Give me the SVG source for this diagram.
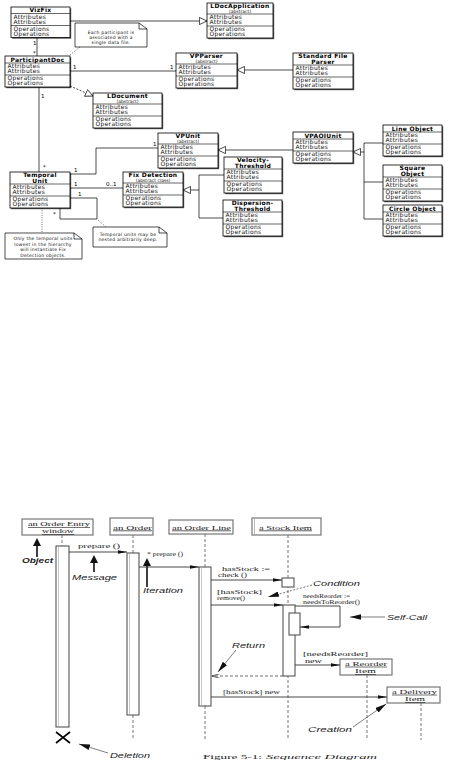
<svg xmlns="http://www.w3.org/2000/svg" width="453" height="764" viewBox="0 0 453 764">
<defs>
<style>
.bx{fill:#fff;stroke:#000;stroke-width:.8}
.sh{fill:#555}
.dv{stroke:#000;stroke-width:.6;fill:none}
.t{font-family:"DejaVu Sans",sans-serif;font-size:6px;letter-spacing:.3px;fill:#111}
.tt{font-family:"DejaVu Sans",sans-serif;font-size:6px;font-weight:bold;text-anchor:middle;letter-spacing:.3px;fill:#000}
.ab{font-family:"DejaVu Sans",sans-serif;font-size:4.5px;text-anchor:middle;fill:#111}
.nt{font-family:"DejaVu Sans",sans-serif;font-size:4.5px;text-anchor:middle;letter-spacing:.25px;fill:#111}
.m{font-family:"DejaVu Sans",sans-serif;font-size:5.5px;fill:#000}
.c{fill:none;stroke:#000;stroke-width:.7}
.cd{fill:none;stroke:#000;stroke-width:.7;stroke-dasharray:2 1.5}
.dot{fill:none;stroke:#000;stroke-width:.7;stroke-dasharray:.8 1.5}
.note{fill:#fff;stroke:#000;stroke-width:.7}
.ob{fill:#fff;stroke:#777;stroke-width:1.2}
.s{font-family:"Liberation Serif",serif;font-size:7px;fill:#222}
.s2{font-family:"Liberation Serif",serif;font-size:5.5px;fill:#222}
.s3{font-family:"Liberation Serif",serif;font-size:6.3px;fill:#222}
.u{text-decoration:underline}
.lb{font-family:"Liberation Sans",sans-serif;font-size:7px;font-style:italic;fill:#222}
.ll{fill:none;stroke:#666;stroke-width:.9;stroke-dasharray:3 2}
.bar{fill:#fff;stroke:#555;stroke-width:1.1}
.bi{stroke:#bbb;stroke-width:.8}
.msg{fill:none;stroke:#333;stroke-width:.9}
.rt{fill:none;stroke:#444;stroke-width:.8;stroke-dasharray:3 2}
.call{fill:none;stroke:#444;stroke-width:.7}
.blk{fill:#111}
</style>
<marker id="tri" viewBox="0 0 10 10" refX="10" refY="5" markerWidth="8" markerHeight="8" markerUnits="userSpaceOnUse" orient="auto"><path d="M0.5,0.5 L10,5 L0.5,9.5 Z" fill="#fff" stroke="#000" stroke-width="0.9"/></marker>
<marker id="fa" viewBox="0 0 10 4" refX="10" refY="2" markerWidth="9" markerHeight="3.6" markerUnits="userSpaceOnUse" orient="auto"><path d="M0,0 L10,2 L0,4 Z" fill="#111"/></marker>
<marker id="oa" viewBox="0 0 10 6" refX="10" refY="3" markerWidth="8" markerHeight="4.8" markerUnits="userSpaceOnUse" orient="auto"><path d="M0,0 L10,3 L0,6" fill="none" stroke="#333" stroke-width="1"/></marker>
<marker id="ca" viewBox="0 0 10 5" refX="10" refY="2.5" markerWidth="11" markerHeight="5.5" markerUnits="userSpaceOnUse" orient="auto"><path d="M0,0 L10,2.5 L0,5 Z" fill="#111"/></marker>
<g id="body"><text class="t" x="2.5" y="5">Attributes</text><text class="t" x="2.5" y="10.2">Attributes</text><text class="t" x="2.5" y="17">Operations</text><text class="t" x="2.5" y="22.2">Operations</text></g>
</defs>
<rect width="453" height="764" fill="#fff"/>

<!-- ===== Class diagram nodes ===== -->
<g id="n-vizfix" transform="translate(11,7)">
<rect class="sh" x="1.2" y="1.2" width="59" height="30.5"/><rect class="bx" width="59" height="30.5"/>
<text class="tt" x="29.5" y="5.2">VizFix</text>
<path class="dv" d="M0,6.5H59M0,18.5H59"/><use href="#body" y="6.5"/>
</g>
<g id="n-ldocapplication" transform="translate(207,3)">
<rect class="sh" x="1.2" y="1.2" width="66" height="35"/><rect class="bx" width="66" height="35"/>
<text class="tt" x="33" y="5.3">LDocApplication</text><text class="ab" x="33" y="9.8">(abstract)</text>
<path class="dv" d="M0,11H66M0,23H66"/><use href="#body" y="11"/>
</g>
<g id="n-participantdoc" transform="translate(5,56)">
<rect class="sh" x="1.2" y="1.2" width="65" height="31"/><rect class="bx" width="65" height="31"/>
<text class="tt" x="32.5" y="5.5">ParticipantDoc</text>
<path class="dv" d="M0,7H65M0,19H65"/><use href="#body" y="7"/>
</g>
<g id="n-vpparser" transform="translate(176,53)">
<rect class="sh" x="1.2" y="1.2" width="61" height="35"/><rect class="bx" width="61" height="35"/>
<text class="tt" x="30.5" y="5.3">VPParser</text><text class="ab" x="30.5" y="9.8">(abstract)</text>
<path class="dv" d="M0,11H61M0,23H61"/><use href="#body" y="11"/>
</g>
<g id="n-standardfileparser" transform="translate(293,53)">
<rect class="sh" x="1.2" y="1.2" width="60" height="36"/><rect class="bx" width="60" height="36"/>
<text class="tt" x="30" y="5.3">Standard File</text><text class="tt" x="30" y="10.8">Parser</text>
<path class="dv" d="M0,12H60M0,24H60"/><use href="#body" y="12"/>
</g>
<g id="n-ldocument" transform="translate(93,93)">
<rect class="sh" x="1.2" y="1.2" width="69" height="35"/><rect class="bx" width="69" height="35"/>
<text class="tt" x="34.5" y="5.3">LDocument</text><text class="ab" x="34.5" y="9.8">(abstract)</text>
<path class="dv" d="M0,11H69M0,23H69"/><use href="#body" y="11"/>
</g>
<g id="n-vpunit" transform="translate(158,133)">
<rect class="sh" x="1.2" y="1.2" width="60" height="35"/><rect class="bx" width="60" height="35"/>
<text class="tt" x="30" y="5.3">VPUnit</text><text class="ab" x="30" y="9.8">(abstract)</text>
<path class="dv" d="M0,11H60M0,23H60"/><use href="#body" y="11"/>
</g>
<g id="n-vpaoiunit" transform="translate(293,132)">
<rect class="sh" x="1.2" y="1.2" width="60" height="31"/><rect class="bx" width="60" height="31"/>
<text class="tt" x="30" y="5.5">VPAOIUnit</text>
<path class="dv" d="M0,7H60M0,19H60"/><use href="#body" y="7"/>
</g>
<g id="n-lineobject" transform="translate(383,125)">
<rect class="sh" x="1.2" y="1.2" width="59" height="31"/><rect class="bx" width="59" height="31"/>
<text class="tt" x="29.5" y="5.5">Line Object</text>
<path class="dv" d="M0,7H59M0,19H59"/><use href="#body" y="7"/>
</g>
<g id="n-squareobject" transform="translate(383,165)">
<rect class="sh" x="1.2" y="1.2" width="59" height="36"/><rect class="bx" width="59" height="36"/>
<text class="tt" x="29.5" y="5.3">Square</text><text class="tt" x="29.5" y="10.8">Object</text>
<path class="dv" d="M0,12H59M0,24H59"/><use href="#body" y="12"/>
</g>
<g id="n-circleobject" transform="translate(383,205)">
<rect class="sh" x="1.2" y="1.2" width="59" height="31"/><rect class="bx" width="59" height="31"/>
<text class="tt" x="29.5" y="5.5">Circle Object</text>
<path class="dv" d="M0,7H59M0,19H59"/><use href="#body" y="7"/>
</g>
<g id="n-velocitythreshold" transform="translate(224,157)">
<rect class="sh" x="1.2" y="1.2" width="58" height="36"/><rect class="bx" width="58" height="36"/>
<text class="tt" x="29" y="5.3">Velocity-</text><text class="tt" x="29" y="10.8">Threshold</text>
<path class="dv" d="M0,12H58M0,24H58"/><use href="#body" y="12"/>
</g>
<g id="n-dispersionthreshold" transform="translate(223,200)">
<rect class="sh" x="1.2" y="1.2" width="59" height="36"/><rect class="bx" width="59" height="36"/>
<text class="tt" x="29.5" y="5.3">Dispersion-</text><text class="tt" x="29.5" y="10.8">Threshold</text>
<path class="dv" d="M0,12H59M0,24H59"/><use href="#body" y="12"/>
</g>
<g id="n-fixdetection" transform="translate(123,172)">
<rect class="sh" x="1.2" y="1.2" width="60" height="35"/><rect class="bx" width="60" height="35"/>
<text class="tt" x="30" y="5.3">Fix Detection</text><text class="ab" x="30" y="9.8">(abstract class)</text>
<path class="dv" d="M0,11H60M0,23H60"/><use href="#body" y="11"/>
</g>
<g id="n-temporalunit" transform="translate(10,172)">
<rect class="sh" x="1.2" y="1.2" width="60" height="36"/><rect class="bx" width="60" height="36"/>
<text class="tt" x="30" y="5.3">Temporal</text><text class="tt" x="30" y="10.8">Unit</text>
<path class="dv" d="M0,12H60M0,24H60"/><use href="#body" y="12"/>
</g>

<!-- notes -->
<g id="n-note-participant">
<path class="note" d="M75,23H139L147,29V47H75Z"/><path class="c" d="M139,23V29H147"/>
<text class="nt" x="111" y="34">Each participant is</text>
<text class="nt" x="111" y="39">associated with a</text>
<text class="nt" x="111" y="44">single data file.</text>
</g>
<g id="n-note-nested">
<path class="note" d="M93,227H159L167,233V247H93Z"/><path class="c" d="M159,227V233H167"/>
<text class="nt" x="128" y="235.5">Temporal units may be</text>
<text class="nt" x="128" y="241">nested arbitrarily deep.</text>
</g>
<g id="n-note-lowest">
<path class="note" d="M5,233H74L82,239V259H5Z"/><path class="c" d="M74,233V239H82"/>
<text class="nt" x="43" y="240">Only the temporal units</text>
<text class="nt" x="43" y="245.5">lowest in the hierarchy</text>
<text class="nt" x="43" y="251">will instantiate Fix</text>
<text class="nt" x="43" y="256.5">Detection objects.</text>
</g>

<!-- ===== Sequence diagram nodes ===== -->
<g id="s-orderentry">
<rect class="ob" x="22" y="519" width="71" height="16"/>
<text class="s3 u" x="28" y="526" textLength="62" lengthAdjust="spacingAndGlyphs">an Order Entry</text>
<text class="s3 u" x="42" y="533.3" textLength="32" lengthAdjust="spacingAndGlyphs">window</text>
<path class="ll" d="M62,535V546"/>
<rect class="bar" x="56" y="546" width="13" height="181"/><path class="bi" d="M58.5,547V726"/>
<path d="M56,732L70,743M70,732L56,743" stroke="#000" stroke-width="1.6" fill="none"/>
</g>
<g id="s-order">
<rect class="ob" x="110" y="518" width="43" height="17"/>
<text class="s u" x="113" y="529.5" textLength="39" lengthAdjust="spacingAndGlyphs">an Order</text>
<path class="ll" d="M133,535V553M133,715V740"/>
<rect class="bar" x="127" y="553" width="12" height="162"/><path class="bi" d="M129.5,554V714"/>
</g>
<g id="s-orderline">
<rect class="ob" x="169" y="520" width="64" height="14"/>
<text class="s u" x="172" y="529.5" textLength="59" lengthAdjust="spacingAndGlyphs">an Order Line</text>
<path class="ll" d="M205,534V567M205,706V740"/>
<rect class="bar" x="199" y="567" width="12" height="139"/><path class="bi" d="M201.5,568V705"/>
</g>
<g id="s-stockitem">
<rect class="ob" x="252" y="518" width="69" height="17"/><path d="M254.5,519V534" stroke="#bbb" stroke-width="1"/>
<text class="s u" x="259" y="529.5" textLength="53" lengthAdjust="spacingAndGlyphs">a Stock Item</text>
<path class="ll" d="M288,535V740"/>
<rect class="bar" x="282" y="578" width="12" height="9"/>
<rect class="bar" x="283" y="605" width="12" height="71"/>
<rect class="bar" x="289" y="613" width="11" height="22"/>
</g>
<g id="s-reorderitem">
<rect class="ob" x="340" y="659" width="52" height="16"/>
<text class="s3 u" x="345" y="665.7" textLength="42" lengthAdjust="spacingAndGlyphs">a Reorder</text>
<text class="s3 u" x="355" y="673" textLength="21" lengthAdjust="spacingAndGlyphs">Item</text>
<path class="ll" d="M367,675V740"/>
</g>
<g id="s-deliveryitem">
<rect class="ob" x="387" y="687" width="53" height="16"/>
<text class="s3 u" x="392" y="693.7" textLength="45" lengthAdjust="spacingAndGlyphs">a Delivery</text>
<text class="s3 u" x="405" y="701" textLength="20" lengthAdjust="spacingAndGlyphs">Item</text>
<path class="ll" d="M421,703V740"/>
</g>

<!-- callout labels -->
<g id="s-label-object">
<path class="blk" d="M33,546L37,538L41,546Z"/><rect class="blk" x="36.2" y="545" width="1.6" height="12"/>
<text class="lb" x="22" y="563" textLength="31" lengthAdjust="spacingAndGlyphs" font-weight="bold">Object</text>
</g>
<g id="s-label-message">
<path class="blk" d="M90,563L94,555L98,563Z"/><rect class="blk" x="93.2" y="562" width="1.6" height="10"/>
<text class="lb" x="72" y="580" textLength="45" lengthAdjust="spacingAndGlyphs">Message</text>
</g>
<g id="s-label-iteration">
<path class="blk" d="M143,566L147,558L151,566Z"/><rect class="blk" x="146.2" y="565" width="1.6" height="22"/>
<text class="lb" x="143" y="593" textLength="40" lengthAdjust="spacingAndGlyphs">Iteration</text>
</g>
<g id="s-label-condition"><text class="lb" x="313" y="586" textLength="47" lengthAdjust="spacingAndGlyphs">Condition</text></g>
<g id="s-label-selfcall"><text class="lb" x="387" y="620" textLength="40" lengthAdjust="spacingAndGlyphs">Self-Call</text></g>
<g id="s-label-return"><text class="lb" x="232" y="648" textLength="33" lengthAdjust="spacingAndGlyphs">Return</text></g>
<g id="s-label-creation"><text class="lb" x="308" y="732" textLength="44" lengthAdjust="spacingAndGlyphs">Creation</text></g>
<g id="s-label-deletion"><text class="lb" x="110" y="758" textLength="40" lengthAdjust="spacingAndGlyphs">Deletion</text></g>

<g id="caption">
<text class="s" x="203" y="759" font-size="9.5" textLength="59" lengthAdjust="spacingAndGlyphs">Figure 5-1:</text>
<text class="s" x="266" y="759" font-size="9.5" font-style="italic" textLength="111" lengthAdjust="spacingAndGlyphs">Sequence Diagram</text>
</g>

<!-- ===== Connectors ===== -->
<g id="connectors">
<!-- class diagram -->
<path class="c" d="M37,37.5V56"/>
<path class="c" d="M70,21H207" marker-end="url(#tri)"/>
<path class="dot" d="M80,47L70,55"/>
<path class="c" d="M70,71H176"/>
<path class="c" d="M293,70H237" marker-end="url(#tri)"/>
<path class="cd" d="M70,86L93,96" marker-end="url(#tri)"/>
<path class="c" d="M39,87V172"/>
<path class="c" d="M70,174H96V148H158"/>
<path class="c" d="M70,188H123"/>
<path class="c" d="M70,198H97V219H60V208"/>
<path class="dot" d="M98,220L106,227"/>
<path class="dot" d="M42,208V233"/>
<path class="c" d="M293,150H218" marker-end="url(#tri)"/>
<path class="c" d="M383,143H364V219H383M364,182H383"/>
<path class="c" d="M364,152H353" marker-end="url(#tri)"/>
<path class="c" d="M224,175H199V218H223"/>
<path class="c" d="M199,190H183" marker-end="url(#tri)"/>
<text class="m" x="33" y="45">1</text><text class="m" x="33" y="55">*</text>
<text class="m" x="73" y="69">1</text><text class="m" x="170" y="69">1</text>
<text class="m" x="41" y="98">1</text><text class="m" x="43" y="169">*</text>
<text class="m" x="74" y="172">1</text><text class="m" x="153" y="146">1</text>
<text class="m" x="74" y="186">1</text><text class="m" x="106" y="186">0..1</text>
<text class="m" x="78" y="196">1</text><text class="m" x="53" y="216">*</text>
<!-- sequence diagram messages -->
<path class="msg" d="M69,552H127" marker-end="url(#fa)"/>
<text class="s" x="78" y="548" textLength="42" lengthAdjust="spacingAndGlyphs">prepare ()</text>
<path class="msg" d="M139,567H199" marker-end="url(#fa)"/>
<text class="s" x="147" y="556" textLength="36" lengthAdjust="spacingAndGlyphs">* prepare ()</text>
<path class="msg" d="M211,580H282" marker-end="url(#fa)"/>
<text class="s2" x="222" y="571" textLength="48" lengthAdjust="spacingAndGlyphs">hasStock :=</text>
<text class="s2" x="218" y="577.3" textLength="29" lengthAdjust="spacingAndGlyphs">check ()</text>
<path class="msg" d="M211,605H283" marker-end="url(#fa)"/>
<text class="s2" x="217" y="593.5" textLength="45" lengthAdjust="spacingAndGlyphs">[hasStock]</text>
<text class="s2" x="217" y="600" textLength="28" lengthAdjust="spacingAndGlyphs">remove()</text>
<path class="msg" d="M295,606H340V627H300" marker-end="url(#fa)"/>
<text class="s2" x="303" y="597.5" textLength="47" lengthAdjust="spacingAndGlyphs">needsReorder :=</text>
<text class="s2" x="303" y="604" textLength="57" lengthAdjust="spacingAndGlyphs">needsToReorder()</text>
<path class="rt" d="M283,676H212" marker-end="url(#oa)"/>
<path class="msg" d="M295,665H340" marker-end="url(#fa)"/>
<text class="s2" x="303" y="656" textLength="65" lengthAdjust="spacingAndGlyphs">[needsReorder]</text>
<text class="s2" x="305" y="662.5" textLength="17" lengthAdjust="spacingAndGlyphs">new</text>
<path class="msg" d="M211,697H387" marker-end="url(#fa)"/>
<text class="s3" x="223" y="694" textLength="57" lengthAdjust="spacingAndGlyphs">[hasStock] new</text>
<!-- callout pointers -->
<path class="call" stroke-dasharray="2 1.5" d="M312,585L268,597" marker-end="url(#ca)"/>
<path class="call" d="M385,617H350" marker-end="url(#ca)"/>
<path class="call" d="M236,650L218,672" marker-end="url(#ca)"/>
<path class="call" d="M353,727L386,704" marker-end="url(#ca)"/>
<path class="call" d="M108,753L79,744" marker-end="url(#ca)"/>
</g>
</svg>
